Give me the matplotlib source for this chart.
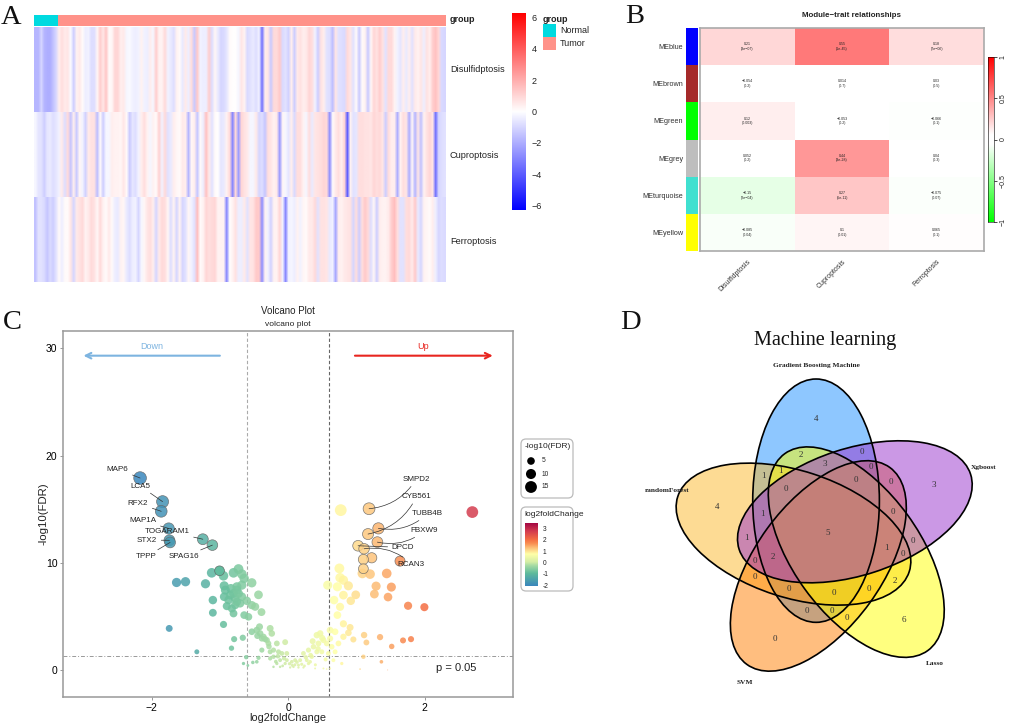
import numpy as np
import matplotlib
matplotlib.use('Agg')
import matplotlib.pyplot as plt
from matplotlib.colors import LinearSegmentedColormap, ListedColormap, Normalize
from matplotlib.patches import Ellipse, FancyBboxPatch, Rectangle

plt.rcParams['font.family'] = ['Liberation Sans', 'DejaVu Sans']

W, H = 1010, 727

# panel A, pathway score per sample (first 8 columns are the normals)
disulfidptosis = [
    -1.8, -1.8, -1.0, -1.8, -2.0, -2.0, -1.5, -1.0, 0.4, 0.8,
    0.5, 0.6, -0.1, -1.2, 0.3, 0.5, 0.1, -0.4, -0.3, -0.8,
    -0.8, 0.2, 1.2, 0.6, 1.4, 0.1, 0.2, 1.0, 1.0, 0.4,
    0.5, -0.2, -0.1, -0.3, -0.4,
    -0.3, 0.3, -0.3, -0.4, 0.4, -0.2, 1.2, 0.3, 0.3, 0.9,
    -0.3, -0.5, -0.8, 0.3, 0.1, -0.5, 0.5, -0.4, 0.8, -1.3,
    1.3, -0.3, -0.4, -0.4, 1.2, -0.8, 0.2, -0.5, -1.0, -0.9,
    -0.6, 0.1, 0.0, 0.0, -0.2, 0.6, 0.3, -0.9, -0.7, -0.5,
    -0.8, -0.3, -3.5, 0.4, 0.6, -1.3, 0.9, 0.9, 1.3, -0.9,
    -0.7, -1.1, 0.4, -1.2, 0.5, 0.7, 0.4, 0.5, 1.0, 0.8,
    -0.3, -1.2, 0.7, 0.4, -0.7, -0.8, -1.6, 0.6, -0.7, -0.8,
    -0.9, 0.9, 0.6, -0.7, 0.1, -1.3, 0.1, 0.3, -1.3, 0.2,
    1.0, 0.7, 1.2, 0.7, -0.7, 0.9, 0.9, 0.3, -0.3, -0.6,
    0.4, -0.5, 0.4, -0.7, 0.5, 0.3, 0.6, -0.4, 0.7, 0.4,
    1.2, 1.5, 1.0, -0.9, -1.0,
]
cuproptosis = [
    -0.2, -0.6, -0.7, -1.2, -0.6, -0.5, -0.8, -0.6, -0.3, 0.5,
    -0.8, 0.9, -1.4, 0.4, -1.3, 0.2, -0.3, -1.1, 0.5, 0.7,
    0.7, -1.6, 0.1, -1.2, -0.2, -0.2, 0.4, 0.3, 0.3, 0.2,
    0.6, 0.1, -1.3, -0.6, -0.8, -0.3, 0.4, 0.8, 0.3, -0.2,
    0.3, 0.1, 1.1, -0.3, 0.9, -0.7, -0.5, 0.4, 0.2, 0.1,
    0.5, 0.4, -1.8, 0.2, 0.4, -1.4, 0.1, -0.4, 1.5, 0.5,
    -0.7, 0.1, 0.0, -0.6, -0.5, 0.3, 0.9, -3.0, 0.9, -2.4,
    1.0, 0.7, 0.5, -0.2, -0.2, 0.5, -1.0, -0.8, -1.4, 0.8,
    0.6, 0.3, 0.5, -2.5, 0.2, -0.2, -0.6, 0.4, -0.9, 0.8,
    0.8, 0.3, -0.2, 0.8, -0.5, 0.6, 0.7, 0.8, 1.0, 0.9,
    -2.8, 0.1, 0.5, 0.8, 0.4, 1.0, -4.0, 0.3, -0.7, -0.6,
    0.8, 0.8, 0.7, 0.7, 0.6, 1.0, 0.8, 0.9, 0.6, -1.2,
    0.8, 0.4, 0.4, -2.0, 0.3, 0.8, 0.6, -2.0, 0.2, -1.8,
    0.6, -1.5, 0.3, 0.7, 1.0, 0.6, -3.5, -1.0, -0.8, -0.7,
]
ferroptosis = [
    -1.5, -0.7, -0.7, -0.9, -1.4, -0.9, -1.2, -0.7, 0.1, -0.4,
    0.1, 0.1, 0.6, -1.0, 0.5, 0.7, 0.9, 0.3, 0.5, 0.9,
    0.7, 0.2, 0.9, 0.3, 0.1, 0.5, 0.1, -0.4, -0.5, 0.3,
    0.2, -0.5, -0.8, -0.4, -0.3, -1.0, -0.2, 0.2, 0.6, 0.8,
    0.4, -1.0, 0.5, 0.9, 0.8, 0.2, -0.8, 0.3, -1.0, 0.3,
    -1.0, -0.7, 0.2, -0.3, -0.7, 1.6, 0.1, 0.3, 1.0, 0.8,
    0.9, 1.0, 0.3, 0.3, 0.3, -3.0, 0.0, 0.3, 0.7, -0.4,
    -0.4, 0.5, -0.7, 0.6, 0.7, 1.3, 1.3, -2.8, 0.3, -0.3,
    -1.1, 0.3, 0.3, 1.0, -0.3, -3.0, -0.3, -0.2, -0.4, 0.3,
    -0.3, 0.2, 0.1, 0.5, 0.5, 0.9, -0.7, 0.7, 0.7, 0.6,
    -0.5, -0.3, -2.2, 0.4, 0.3, 0.5, 0.6, 0.7, -1.0, 0.8,
    -1.2, 0.8, 1.3, 0.9, -0.8, 0.2, -1.2, 0.4, 0.3, 0.3,
    0.5, 1.2, 1.6, 0.8, -0.7, -0.7, 0.8, 0.9, 0.5, 1.3,
    -0.5, -1.0, 0.3, 0.2, 0.1, 0.4, -0.4, -1.0, -0.8, -0.9,
]
pathways = ['Disulfidptosis', 'Cuproptosis', 'Ferroptosis']
n_normal = 8

# panel B
modules = ['MEblue', 'MEbrown', 'MEgreen', 'MEgrey', 'MEturquoise', 'MEyellow']
module_colors = ['#0000ff', '#a52a2a', '#00ff00', '#bebebe', '#40e0d0', '#ffff00']
corr_disulfid = [0.21, -0.054, 0.12, 0.052, -0.15, -0.085]
corr_cupro = [0.55, 0.014, -0.053, 0.44, 0.27, 0.1]
corr_ferro = [0.18, 0.03, -0.066, 0.04, -0.075, 0.065]
p_disulfid = ['3e-07', '0.2', '0.003', '0.2', '2e-04', '0.04']
p_cupro = ['1e-45', '0.7', '0.2', '3e-28', '5e-11', '0.01']
p_ferro = ['7e-06', '0.5', '0.1', '0.3', '0.07', '0.1']

# panel C
down_fc = [-1.12, -1.005, -0.947, -0.80, -0.727, -0.678, -0.644, -0.532, -0.937, -0.839,
           -0.751, -0.678, -1.211, -1.635, -1.504, -0.434, -1.103, -0.937, -0.849, -0.776,
           -0.678, -0.605, -0.532, -0.483, -0.898, -0.776, -0.703, -0.80, -1.103, -0.644,
           -0.581, -0.39, -0.947, -1.743, -0.791, -0.664, -0.83, -1.338, -0.92, -0.80,
           -0.727, -0.873, -0.751, -0.825, -0.751]
down_fdr = [9.07, 9.26, 8.79, 9.07, 9.42, 8.95, 8.55, 8.14, 7.86, 7.61,
            7.77, 7.92, 8.05, 8.17, 8.24, 7.02, 6.53, 6.84, 6.99, 6.68,
            6.84, 6.46, 6.06, 5.91, 5.97, 6.06, 6.22, 5.28, 5.35, 5.13,
            4.97, 5.41, 4.26, 3.89, 2.89, 3.02, 2.05, 1.71, 7.46, 7.15,
            7.15, 6.53, 6.37, 5.75, 7.46]
mid_fc = [-0.532, -0.459, -0.41, -0.361, -0.312, -0.263, -0.239, -0.419, -0.385, -0.288,
          -0.043, -0.165, -0.385, -0.263, -0.214, -0.141, -0.092, -0.263, -0.615, -0.654,
          -0.59, -0.517, -0.434, -0.459, -0.214, -0.165, -0.117, -0.019, 0.054, 0.079,
          0.152, 0.225, 0.299, 0.225, 0.299, 0.372, 0.445, 0.421, 0.47, 0.518,
          0.567, 0.494, 0.421, 0.274, 0.323, 0.396, 0.518, 0.616, -0.117, -0.043,
          0.03, 0.103, 0.177, 0.347, 0.152, -0.214, -0.019,
          -0.45, -0.34, -0.28, -0.15, -0.06, 0.02, 0.1, 0.2, 0.33, 0.44,
          0.5, 0.36, 0.26, -0.18, -0.08, 0.06, 0.13, 0.24, 0.4, 0.55]
mid_fdr = [3.58, 3.73, 3.42, 3.11, 2.80, 3.89, 3.42, 4.04, 2.95, 2.49,
           2.61, 2.49, 1.87, 1.71, 1.87, 1.71, 1.56, 1.09, 1.21, 0.62,
           0.44, 0.72, 1.15, 0.78, 0.31, 0.62, 0.93, 0.93, 0.78, 0.31,
           0.47, 0.25, 0.62, 1.56, 1.87, 2.18, 2.49, 3.26, 3.42, 2.80,
           2.49, 1.71, 1.71, 0.93, 0.78, 0.16, 0.16, 0.16, 0.31, 0.62,
           0.25, 0.93, 0.93, 1.25, 0.25, 1.25, 1.56,
           3.2, 2.9, 2.2, 1.3, 1.1, 0.6, 0.5, 0.55, 1.4, 2.0,
           3.0, 2.7, 1.2, 0.8, 0.4, 0.45, 0.75, 0.4, 0.5, 1.0]
up_fc = [0.772, 0.752, 1.089, 1.202, 1.446, 0.762, 0.811, 0.884, 0.581, 0.723,
         1.29, 1.514, 1.265, 0.992, 0.811, 1.465, 0.919, 0.674, 0.762, 1.759,
         1.998, 0.723, 0.811, 0.909, 0.884, 1.114, 1.348, 1.802, 1.685, 0.957,
         0.811, 1.148, 1.519, 0.616, 0.689, 0.616, 0.738, 0.64, 0.689, 0.591,
         1.104, 1.368, 0.787, 0.664, 1.055, 1.46, 0.566, 2.701]
up_fdr = [14.91, 9.48, 9.01, 8.95, 9.01, 8.61, 8.39, 7.86, 7.92, 7.77,
          7.83, 7.74, 7.09, 7.02, 6.99, 6.81, 6.46, 6.53, 5.90, 6.0,
          5.87, 5.13, 4.32, 3.98, 3.48, 3.27, 3.08, 2.89, 2.77, 2.86,
          3.11, 2.58, 2.21, 3.73, 3.58, 2.95, 2.49, 2.18, 1.71, 1.56,
          1.25, 0.78, 0.62, 0.93, 0.1, 0.02, 0.1, 14.73]
ringed_fc = [1.226, 1.104, 1.104, 1.641, -1.005]
ringed_fdr = [10.47, 10.32, 9.45, 10.16, 9.26]
genes = ['MAP6', 'LCA5', 'RFX2', 'MAP1A', 'TOGARAM1', 'STX2', 'TPPP', 'SPAG16',
         'SMPD2', 'CYB561', 'TUBB4B', 'FBXW9', 'DPCD', 'RCAN3']
gene_fc = [-2.17, -1.84, -1.86, -1.75, -1.25, -1.74, -1.73, -1.11,
           1.187, 1.172, 1.324, 1.309, 1.026, 1.114]
gene_fdr = [17.9, 15.7, 14.8, 13.2, 12.2, 12.1, 11.9, 11.65,
            15.04, 12.68, 13.21, 11.93, 11.59, 11.31]
label_x = [-2.34, -2.02, -2.05, -1.93, -1.445, -1.92, -1.93, -1.30,
           1.675, 1.666, 1.82, 1.80, 1.52, 1.607]
label_y = [18.74, 17.15, 15.54, 13.92, 12.96, 12.12, 10.57, 10.57,
           17.8, 16.19, 14.6, 13.02, 11.44, 9.88]

# panel D, counts at their spot in the diagram
venn_sets = ['Gradient Boosting Machine', 'Xgboost', 'Lasso', 'SVM', 'randomForest']
venn_colors = ['#1e90ff', '#9932cc', '#ffff00', '#ff7f00', '#fdb92b']
venn_order = [0, 4, 3, 2, 1]
venn_counts = [4, 2, 0, 3, 0, 1, 1, 0, 0, 0, 3, 4, 1, 0, 5, 1, 0, 1, 0, 2, 0, 0, 2, 0, 0, 0, 0, 0, 0, 6, 0]
venn_x = [558, 514, 697, 583, 722, 399, 452, 468, 677, 784, 910, 260, 397, 790, 593, 350,
          850, 768, 818, 430, 375, 375, 794, 478, 612, 716, 530, 605, 651, 823, 434]
venn_y = [296, 405, 397, 432, 441, 469, 452, 506, 480, 485, 496, 560, 582, 575, 640, 655,
          663, 683, 703, 711, 722, 772, 782, 806, 820, 806, 873, 873, 893, 900, 957]


def px_axes(left, top, right, bottom):
    return fig.add_axes([left / W, 1 - bottom / H, (right - left) / W, (bottom - top) / H])


def dot_size(fdr):
    return 8.3 * np.asarray(fdr, dtype=float) ** 0.8


fig = plt.figure(figsize=(W / 100, H / 100), dpi=100)

# overlay in pixel units for panel letters and legend boxes
ov = fig.add_axes([0, 0, 1, 1], zorder=5)
ov.set_xlim(0, W)
ov.set_ylim(H, 0)
ov.axis('off')
for letter, lx, ly in [('A', 1, 24), ('B', 625, 23), ('C', 3, 329), ('D', 620, 329)]:
    ov.text(lx, ly, letter, family='Liberation Serif', fontsize=20.5, color='#111')

# ---- A: heatmap, smoothed a little like the blurred original
bwr = LinearSegmentedColormap.from_list('bwr2', ['#0000ff', '#ffffff', '#ff0000'])
ax = px_axes(34, 27, 446, 282)
for r, row in enumerate([disulfidptosis, cuproptosis, ferroptosis]):
    ax.imshow(np.array(row)[None, :], aspect='auto', cmap=bwr, vmin=-6.3, vmax=6.3,
              interpolation='bilinear', extent=[0, len(row), 3 - r - 1, 3 - r])
ax.set_xlim(0, len(disulfidptosis))
ax.set_ylim(0, 3)
ax.axis('off')

ax = px_axes(34, 15, 446, 25.5)
n_cols = len(disulfidptosis)
ax.pcolormesh(np.array([[0] * n_normal + [1] * (n_cols - n_normal)]),
              cmap=ListedColormap(['#00dae0', '#ff9289']))
ax.axis('off')
ov.text(450, 19, 'group', fontsize=6.5, fontweight='bold', va='center', color='#222')
for name, yy in zip(pathways, [70, 155, 241]):
    ov.text(450, yy, name, fontsize=6.6, va='center', color='#222')

cax = px_axes(512, 13, 526, 210)
cax.imshow(np.linspace(6.3, -6.3, 256)[:, None], aspect='auto', cmap=bwr, vmin=-6.3, vmax=6.3,
           extent=[0, 1, -6.3, 6.3])
cax.set_xticks([])
cax.yaxis.tick_right()
cax.set_yticks([-6, -4, -2, 0, 2, 4, 6], ['\u22126', '\u22124', '\u22122', '0', '2', '4', '6'],
               fontsize=6.5, color='#222')
cax.tick_params(length=0, pad=4)
for s in cax.spines.values():
    s.set_visible(False)
ov.text(543, 19, 'group', fontsize=6.5, fontweight='bold', va='center', color='#222')
ov.add_patch(Rectangle((543, 24), 13, 13, fc='#00dae0', ec='none'))
ov.add_patch(Rectangle((543, 37), 13, 13, fc='#ff9289', ec='none'))
ov.text(560, 30.5, 'Normal', fontsize=6.5, va='center', color='#222')
ov.text(560, 43.5, 'Tumor', fontsize=6.5, va='center', color='#222')

# ---- B: module-trait
grw = LinearSegmentedColormap.from_list('grw', [(0, '#00ff00'), (0.47, '#ffffff'), (0.53, '#ffffff'), (1, '#ff0000')])
corr = np.array([corr_disulfid, corr_cupro, corr_ferro]).T
ax = px_axes(700, 28, 984, 251)
ax.pcolormesh(corr, cmap=grw, vmin=-1, vmax=1)
ax.set_ylim(len(modules), 0)
ax.set_xticks([0.5, 1.5, 2.5], pathways, rotation=45, ha='right', rotation_mode='anchor', fontsize=5, color='#333')
ax.set_yticks([])
ax.tick_params(length=0, pad=5)
for s in ax.spines.values():
    s.set_color('#aaaaaa')
    s.set_linewidth(1.2)
for i in range(len(modules)):
    for j, (c, p) in enumerate(zip([corr_disulfid, corr_cupro, corr_ferro], [p_disulfid, p_cupro, p_ferro])):
        ax.text(j + 0.5, i + 0.5, f'{c[i]}\n({p[i]})'.replace('-0', '\u22120'), ha='center', va='center',
                fontsize=2.6, color='#222', linespacing=1.2)

ax = px_axes(686, 28, 698, 251)
ax.pcolormesh(np.arange(len(modules))[:, None], cmap=ListedColormap(module_colors))
ax.set_ylim(len(modules), 0)
ax.set_xticks([])
ax.set_yticks(np.arange(len(modules)) + 0.5, modules, fontsize=5.2, color='#333')
ax.tick_params(length=0, pad=2)
for s in ax.spines.values():
    s.set_visible(False)
ov.text(852, 15.5, 'Module\u2212trait relationships', fontsize=5.7, fontweight='bold', ha='center', va='center', color='#222')

cax = px_axes(988, 57, 994, 222)
cax.imshow(np.linspace(1, -1, 256)[:, None], aspect='auto', cmap=grw, vmin=-1, vmax=1, extent=[0, 1, -1, 1])
cax.set_xticks([])
cax.yaxis.tick_right()
cax.set_yticks([-1, -0.5, 0, 0.5, 1], ['\u22121', '\u22120.5', '0', '0.5', '1'], rotation=90, va='center', fontsize=5, color='#222')
cax.tick_params(length=2, width=0.5, pad=2)
for s in cax.spines.values():
    s.set_linewidth(0.4)

# ---- C: volcano
spectral = LinearSegmentedColormap.from_list('volc', [
    (0.0, '#3a87bd'), (0.198, '#5fbb9c'), (0.32, '#a6dba4'), (0.375, '#d4eda5'),
    (0.5, '#ffffa8'), (0.588, '#fdc67d'), (0.667, '#f98e52'), (0.729, '#f46d43'),
    (0.853, '#d53e4f'), (1.0, '#9e0142')])
fc_norm = Normalize(-2.12, 3.53)

ax = px_axes(63, 331, 512.5, 697)
ax.set_xlim(-3.30, 3.29)
ax.set_ylim(-2.5, 31.6)
all_fc = np.array(down_fc + mid_fc + up_fc)
all_fdr = np.array(down_fdr + mid_fdr + up_fdr)
ax.scatter(all_fc, all_fdr, s=dot_size(all_fdr), c=all_fc, cmap=spectral, norm=fc_norm, alpha=0.85, linewidths=0, zorder=3)
g_fc = np.array(gene_fc + ringed_fc)
g_fdr = np.array(gene_fdr + ringed_fdr)
ax.scatter(g_fc, g_fdr, s=dot_size(g_fdr), c=g_fc, cmap=spectral, norm=fc_norm, alpha=0.85,
           edgecolors='#666666', linewidths=0.5, zorder=4)
for i, g in enumerate(genes):
    ha = 'left' if gene_fc[i] > 0 else 'right'
    rad = -0.25 if g in ('SMPD2', 'CYB561', 'TUBB4B', 'FBXW9') else (0.25 if g == 'RCAN3' else 0.0)
    ax.annotate(g, (gene_fc[i], gene_fdr[i]), (label_x[i], label_y[i]), fontsize=5.8, color='#222', ha=ha, va='center',
                zorder=6, arrowprops=dict(arrowstyle='-', color='#333333', lw=0.5, shrinkA=1, shrinkB=0,
                                          connectionstyle=f'arc3,rad={rad}'))
ax.axvline(-0.6, color='#aaaaaa', lw=0.8, ls=(0, (3, 2)), zorder=2)
ax.axvline(0.6, color='#666666', lw=0.8, ls=(0, (3, 2)), zorder=2)
ax.axhline(1.3, color='#999999', lw=0.7, ls=(0, (4, 2, 1, 2)), zorder=2)
ax.annotate('', (-3.0, 29.3), (-1.0, 29.3), arrowprops=dict(arrowstyle='->', color='#7db4e0', lw=1.5, shrinkA=0, shrinkB=0))
ax.annotate('', (3.0, 29.3), (0.98, 29.3), arrowprops=dict(arrowstyle='->', color='#e8251f', lw=1.5, shrinkA=0, shrinkB=0))
ax.text(-2.0, 29.7, 'Down', color='#7db4e0', fontsize=6.5, ha='center', va='bottom')
ax.text(1.98, 29.7, 'Up', color='#e8251f', fontsize=6.5, ha='center', va='bottom')
ax.text(2.47, 0.2, 'p = 0.05', fontsize=8, color='#222', ha='center', va='center')
ax.set_xticks([-2, 0, 2], ['\u22122', '0', '2'], fontsize=7.5)
ax.set_yticks([0, 10, 20, 30], ['0', '10', '20', '30'], fontsize=7.5)
ax.tick_params(length=2, width=0.6, color='#888888', pad=2)
ax.set_xlabel('log2foldChange', fontsize=7.8, labelpad=0, color='#222')
ax.set_ylabel('-log10(FDR)', fontsize=8.2, labelpad=-2, color='#222')
for s in ax.spines.values():
    s.set_color('#999999')
    s.set_linewidth(1.1)
ov.text(288, 311, 'Volcano Plot', fontsize=7, ha='center', va='center', color='#222')
ov.text(288, 325, 'volcano plot', fontsize=6, ha='center', va='center', color='#222')

# C legends
ov.add_patch(FancyBboxPatch((523, 441), 48, 55, boxstyle='round,pad=2,rounding_size=5', fc='white', ec='#bbbbbb', lw=0.9))
ov.add_patch(FancyBboxPatch((523, 509), 48, 80, boxstyle='round,pad=2,rounding_size=5', fc='white', ec='#bbbbbb', lw=0.9))
ov.text(524.5, 447, '-log10(FDR)', fontsize=6, va='center', color='#222')
legend_sizes = [5, 10, 15]
ov.scatter([531] * 3, [461, 474, 487], s=dot_size(legend_sizes), color='black', linewidths=0)
for v, yy in zip(legend_sizes, [461, 474, 487]):
    ov.text(542, yy, str(v), fontsize=4.8, va='center', color='#222')
ov.text(524.5, 515, 'log2foldChange', fontsize=6, va='center', color='#222')
cax = px_axes(524.5, 522.5, 537, 586.5)
cax.set_zorder(6)
cax.imshow(np.linspace(3.53, -2.12, 256)[:, None], aspect='auto', cmap=spectral, norm=fc_norm, extent=[0, 1, -2.12, 3.53])
cax.set_xticks([])
cax.yaxis.tick_right()
cax.set_yticks([-2, -1, 0, 1, 2, 3], ['-2', '-1', '0', '1', '2', '3'], fontsize=4.8, color='#222')
cax.tick_params(length=0, pad=4)
for s in cax.spines.values():
    s.set_visible(False)

# ---- D: venn, units are 1/3 px from (630, 320)
ax = px_axes(630, 320, 1010, 710)
ax.set_xlim(0, 1140)
ax.set_ylim(1170, 0)
ax.axis('off')
cx0, cy0, offset = 593.4, 638.8, 103
centres = [(cx0 + offset * np.sin(np.deg2rad(72 * k - 20)), cy0 - offset * np.cos(np.deg2rad(72 * k - 20))) for k in range(5)]
for k in venn_order:
    # y axis is flipped here so the patch angle turns clockwise on screen
    ax.add_patch(Ellipse(centres[k], 380, 730, angle=72 * k, fc=venn_colors[k], alpha=0.5, ec='none'))
for k in range(5):
    ax.add_patch(Ellipse(centres[k], 380, 730, angle=72 * k, fc='none', ec='black', lw=1.2))
for n, xx, yy in zip(venn_counts, venn_x, venn_y):
    ax.text(xx, yy, str(n), family='Liberation Serif', fontsize=6.5, ha='center', va='center', color='#333')
for name, xx, yy in zip(venn_sets, [558, 1060, 915, 344, 110], [138, 442, 1031, 1087, 512]):
    ax.text(xx, yy, name, family='Liberation Serif', fontweight='bold', fontsize=5.3, ha='center', va='center', color='#222')
ax.text(585, 60, 'Machine learning', family='Liberation Serif', fontsize=14.6, ha='center', va='center', color='#111')

fig.savefig('out.png', dpi=100, facecolor='white')
